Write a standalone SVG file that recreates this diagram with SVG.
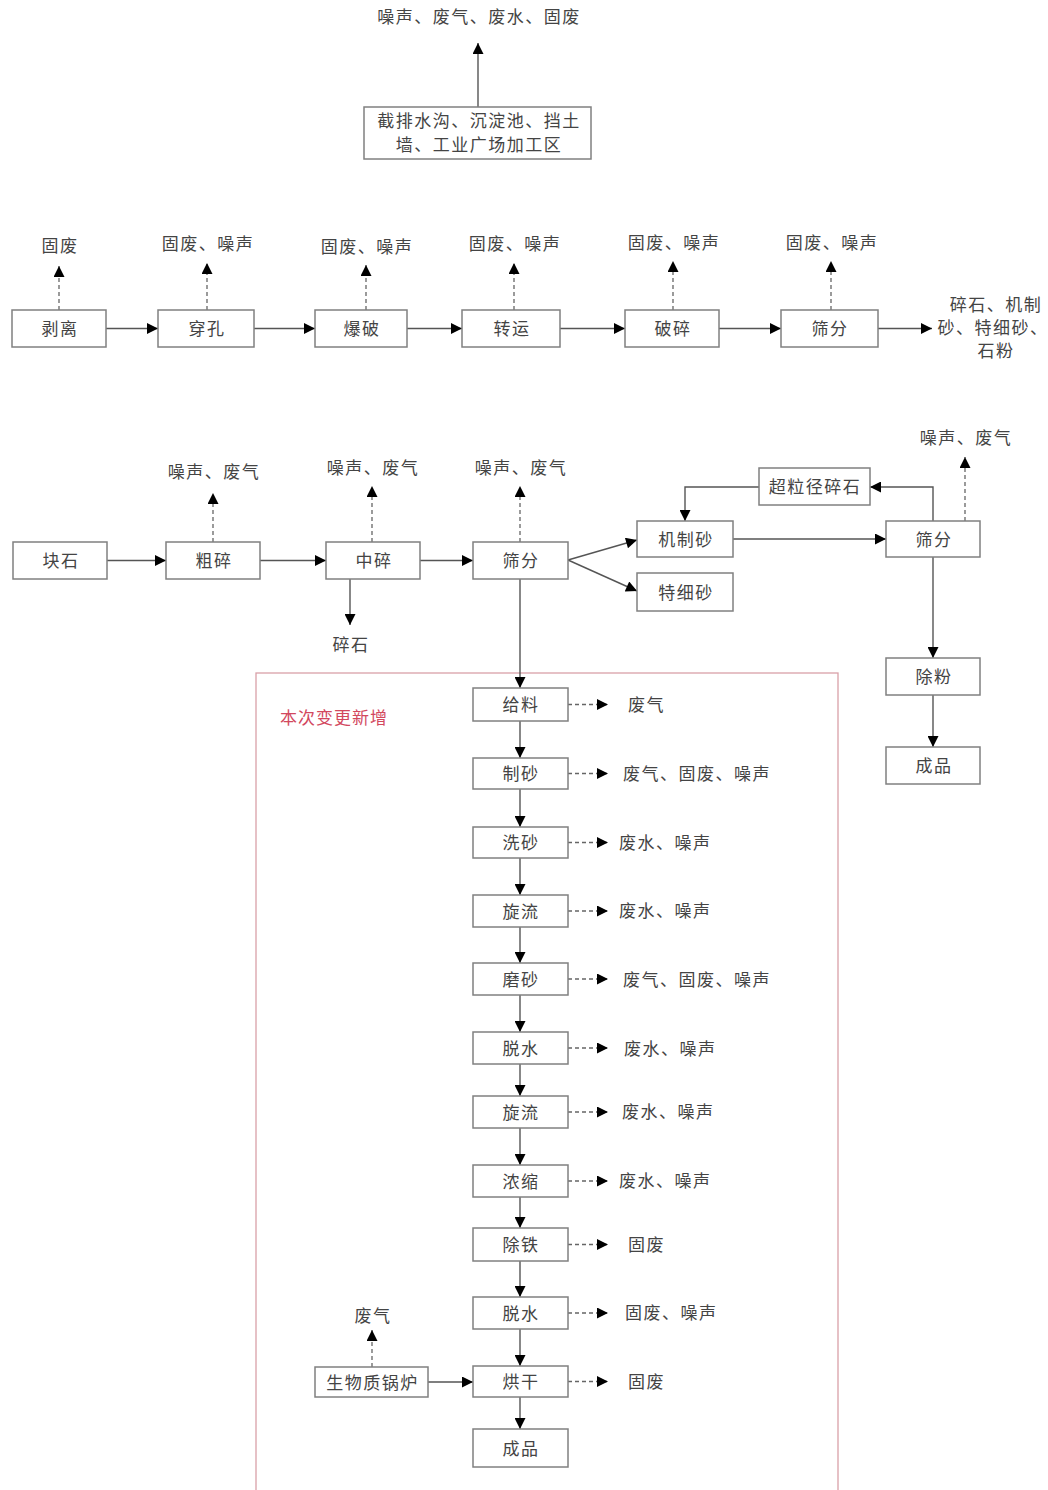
<svg xmlns="http://www.w3.org/2000/svg" width="1048" height="1490" viewBox="0 0 1048 1490">
<style>
.box{fill:#fff;stroke:#808080;stroke-width:1.5}
.t{font-family:"Noto Sans CJK SC","Noto Sans",sans-serif;font-size:17px;letter-spacing:1.5px;fill:#444;text-anchor:middle;dominant-baseline:central}
.l{font-family:"Noto Sans CJK SC","Noto Sans",sans-serif;font-size:17px;letter-spacing:1.5px;fill:#444;text-anchor:start;dominant-baseline:central}
.s{fill:none;stroke:#555;stroke-width:1.4}
.d{fill:none;stroke:#666;stroke-width:1.3;stroke-dasharray:4,3}
.red{fill:none;stroke:#d9a0a8;stroke-width:1.3}
.rt{font-family:"Noto Sans CJK SC","Noto Sans",sans-serif;font-size:17px;letter-spacing:1px;fill:#d2485e;text-anchor:start;dominant-baseline:central}
</style>
<defs>
<marker id="a" viewBox="0 0 10 10" refX="10" refY="5" markerUnits="userSpaceOnUse" markerWidth="15" markerHeight="11" orient="auto">
<path d="M0,0 L10,5 L0,10 z" fill="#000"/>
</marker>
</defs>
<rect width="1048" height="1490" fill="#fff"/>

<g id="newarea">
<rect class="red" x="256" y="673" width="582" height="830"/>
<text class="rt" x="280" y="716">本次变更新增</text>
</g>

<g id="connectors">
<line class="s" x1="478" y1="107" x2="478" y2="43" marker-end="url(#a)"/>
<line class="s" x1="106" y1="328.5" x2="158" y2="328.5" marker-end="url(#a)"/>
<line class="s" x1="254" y1="328.5" x2="315" y2="328.5" marker-end="url(#a)"/>
<line class="s" x1="407" y1="328.5" x2="462" y2="328.5" marker-end="url(#a)"/>
<line class="s" x1="560" y1="328.5" x2="625" y2="328.5" marker-end="url(#a)"/>
<line class="s" x1="719" y1="328.5" x2="781" y2="328.5" marker-end="url(#a)"/>
<line class="s" x1="878" y1="328.5" x2="932" y2="328.5" marker-end="url(#a)"/>
<line class="d" x1="59" y1="310" x2="59" y2="266" marker-end="url(#a)"/>
<line class="d" x1="207" y1="310" x2="207" y2="263" marker-end="url(#a)"/>
<line class="d" x1="366" y1="310" x2="366" y2="265" marker-end="url(#a)"/>
<line class="d" x1="514" y1="310" x2="514" y2="263" marker-end="url(#a)"/>
<line class="d" x1="673" y1="310" x2="673" y2="261" marker-end="url(#a)"/>
<line class="d" x1="831" y1="310" x2="831" y2="261" marker-end="url(#a)"/>
<line class="s" x1="107" y1="560.5" x2="166" y2="560.5" marker-end="url(#a)"/>
<line class="s" x1="260" y1="560.5" x2="326" y2="560.5" marker-end="url(#a)"/>
<line class="s" x1="420" y1="560.5" x2="473" y2="560.5" marker-end="url(#a)"/>
<line class="d" x1="213" y1="542" x2="213" y2="493" marker-end="url(#a)"/>
<line class="d" x1="372" y1="542" x2="372" y2="486" marker-end="url(#a)"/>
<line class="d" x1="520" y1="542" x2="520" y2="486" marker-end="url(#a)"/>
<line class="s" x1="350" y1="579" x2="350" y2="625" marker-end="url(#a)"/>
<line class="s" x1="568" y1="560" x2="637" y2="540" marker-end="url(#a)"/>
<line class="s" x1="568" y1="560" x2="637" y2="591" marker-end="url(#a)"/>
<line class="s" x1="733" y1="539" x2="886" y2="539" marker-end="url(#a)"/>
<polyline class="s" points="933,521 933,487 870,487" marker-end="url(#a)"/>
<polyline class="s" points="759,487 685,487 685,521" marker-end="url(#a)"/>
<line class="d" x1="965" y1="521" x2="965" y2="457" marker-end="url(#a)"/>
<line class="s" x1="933" y1="557" x2="933" y2="658" marker-end="url(#a)"/>
<line class="s" x1="933" y1="695" x2="933" y2="747" marker-end="url(#a)"/>
<line class="s" x1="520" y1="579" x2="520" y2="688" marker-end="url(#a)"/>
<line class="s" x1="520" y1="721" x2="520" y2="758" marker-end="url(#a)"/>
<line class="s" x1="520" y1="789" x2="520" y2="827" marker-end="url(#a)"/>
<line class="s" x1="520" y1="858" x2="520" y2="895" marker-end="url(#a)"/>
<line class="s" x1="520" y1="927" x2="520" y2="963" marker-end="url(#a)"/>
<line class="s" x1="520" y1="995" x2="520" y2="1032" marker-end="url(#a)"/>
<line class="s" x1="520" y1="1064" x2="520" y2="1096" marker-end="url(#a)"/>
<line class="s" x1="520" y1="1128" x2="520" y2="1165" marker-end="url(#a)"/>
<line class="s" x1="520" y1="1197" x2="520" y2="1228" marker-end="url(#a)"/>
<line class="s" x1="520" y1="1261" x2="520" y2="1297" marker-end="url(#a)"/>
<line class="s" x1="520" y1="1329" x2="520" y2="1366" marker-end="url(#a)"/>
<line class="s" x1="520" y1="1397" x2="520" y2="1429" marker-end="url(#a)"/>
<line class="s" x1="428" y1="1382" x2="473" y2="1382" marker-end="url(#a)"/>
<line class="d" x1="372" y1="1367" x2="372" y2="1330" marker-end="url(#a)"/>
<line class="d" x1="568" y1="704.5" x2="608" y2="704.5" marker-end="url(#a)"/>
<line class="d" x1="568" y1="773.5" x2="608" y2="773.5" marker-end="url(#a)"/>
<line class="d" x1="568" y1="842.5" x2="608" y2="842.5" marker-end="url(#a)"/>
<line class="d" x1="568" y1="911" x2="608" y2="911" marker-end="url(#a)"/>
<line class="d" x1="568" y1="979" x2="608" y2="979" marker-end="url(#a)"/>
<line class="d" x1="568" y1="1048" x2="608" y2="1048" marker-end="url(#a)"/>
<line class="d" x1="568" y1="1112" x2="608" y2="1112" marker-end="url(#a)"/>
<line class="d" x1="568" y1="1181" x2="608" y2="1181" marker-end="url(#a)"/>
<line class="d" x1="568" y1="1244.5" x2="608" y2="1244.5" marker-end="url(#a)"/>
<line class="d" x1="568" y1="1313" x2="608" y2="1313" marker-end="url(#a)"/>
<line class="d" x1="568" y1="1381.5" x2="608" y2="1381.5" marker-end="url(#a)"/>
</g>

<g id="labels">
<text class="t" x="479" y="15">噪声、废气、废水、固废</text>
<text class="t" x="60" y="244">固废</text>
<text class="t" x="208" y="242">固废、噪声</text>
<text class="t" x="367" y="245">固废、噪声</text>
<text class="t" x="515" y="242">固废、噪声</text>
<text class="t" x="674" y="241">固废、噪声</text>
<text class="t" x="832" y="241">固废、噪声</text>
<text class="t" x="996" y="303">碎石、机制</text>
<text class="t" x="993" y="326">砂、特细砂、</text>
<text class="t" x="996" y="349">石粉</text>
<text class="t" x="214" y="470">噪声、废气</text>
<text class="t" x="373" y="466">噪声、废气</text>
<text class="t" x="521" y="466">噪声、废气</text>
<text class="t" x="966" y="436">噪声、废气</text>
<text class="t" x="351" y="643">碎石</text>
<text class="l" x="628" y="703">废气</text>
<text class="l" x="623" y="772">废气、固废、噪声</text>
<text class="l" x="619" y="841">废水、噪声</text>
<text class="l" x="619" y="909">废水、噪声</text>
<text class="l" x="623" y="978">废气、固废、噪声</text>
<text class="l" x="624" y="1047">废水、噪声</text>
<text class="l" x="622" y="1110">废水、噪声</text>
<text class="l" x="619" y="1179">废水、噪声</text>
<text class="l" x="628" y="1243">固废</text>
<text class="l" x="625" y="1311">固废、噪声</text>
<text class="l" x="628" y="1380">固废</text>
<text class="t" x="373" y="1314">废气</text>
</g>

<g id="n-top"><rect class="box" x="364" y="107" width="227" height="52"/><text class="t" x="479" y="119">截排水沟、沉淀池、挡土</text><text class="t" x="479" y="143">墙、工业广场加工区</text></g>
<g id="n-boli"><rect class="box" x="12" y="310" width="94" height="37"/><text class="t" x="60" y="327.5">剥离</text></g>
<g id="n-chuankong"><rect class="box" x="158" y="310" width="96" height="37"/><text class="t" x="207" y="327.5">穿孔</text></g>
<g id="n-baopo"><rect class="box" x="315" y="310" width="92" height="37"/><text class="t" x="362" y="327.5">爆破</text></g>
<g id="n-zhuanyun"><rect class="box" x="462" y="310" width="98" height="37"/><text class="t" x="512" y="327.5">转运</text></g>
<g id="n-posui"><rect class="box" x="625" y="310" width="94" height="37"/><text class="t" x="673" y="327.5">破碎</text></g>
<g id="n-shaifen1"><rect class="box" x="781" y="310" width="97" height="37"/><text class="t" x="830" y="327.5">筛分</text></g>

<g id="n-kuaishi"><rect class="box" x="13" y="542" width="94" height="37"/><text class="t" x="61" y="559.5">块石</text></g>
<g id="n-cusui"><rect class="box" x="166" y="542" width="94" height="37"/><text class="t" x="214" y="559.5">粗碎</text></g>
<g id="n-zhongsui"><rect class="box" x="326" y="542" width="94" height="37"/><text class="t" x="374" y="559.5">中碎</text></g>
<g id="n-shaifen2"><rect class="box" x="473" y="542" width="95" height="37"/><text class="t" x="521" y="559.5">筛分</text></g>
<g id="n-jizhisha"><rect class="box" x="637" y="521" width="96" height="36"/><text class="t" x="686" y="538">机制砂</text></g>
<g id="n-texisha"><rect class="box" x="637" y="573" width="96" height="38"/><text class="t" x="686" y="591">特细砂</text></g>
<g id="n-chaolijing"><rect class="box" x="759" y="468" width="111" height="37"/><text class="t" x="815" y="485.5">超粒径碎石</text></g>
<g id="n-shaifen3"><rect class="box" x="886" y="521" width="94" height="36"/><text class="t" x="934" y="538">筛分</text></g>
<g id="n-chufen"><rect class="box" x="886" y="658" width="94" height="37"/><text class="t" x="934" y="675.5">除粉</text></g>
<g id="n-chengpin1"><rect class="box" x="886" y="747" width="94" height="37"/><text class="t" x="934" y="764.5">成品</text></g>

<g id="n-geiliao"><rect class="box" x="473" y="688" width="95" height="33"/><text class="t" x="521" y="703.5">给料</text></g>
<g id="n-zhisha"><rect class="box" x="473" y="758" width="95" height="31"/><text class="t" x="521" y="772.5">制砂</text></g>
<g id="n-xisha"><rect class="box" x="473" y="827" width="95" height="31"/><text class="t" x="521" y="841.5">洗砂</text></g>
<g id="n-xuanliu1"><rect class="box" x="473" y="895" width="95" height="32"/><text class="t" x="521" y="910">旋流</text></g>
<g id="n-mosha"><rect class="box" x="473" y="963" width="95" height="32"/><text class="t" x="521" y="978">磨砂</text></g>
<g id="n-tuoshui1"><rect class="box" x="473" y="1032" width="95" height="32"/><text class="t" x="521" y="1047">脱水</text></g>
<g id="n-xuanliu2"><rect class="box" x="473" y="1096" width="95" height="32"/><text class="t" x="521" y="1111">旋流</text></g>
<g id="n-nongsuo"><rect class="box" x="473" y="1165" width="95" height="32"/><text class="t" x="521" y="1180">浓缩</text></g>
<g id="n-chutie"><rect class="box" x="473" y="1228" width="95" height="33"/><text class="t" x="521" y="1243.5">除铁</text></g>
<g id="n-tuoshui2"><rect class="box" x="473" y="1297" width="95" height="32"/><text class="t" x="521" y="1312">脱水</text></g>
<g id="n-honggan"><rect class="box" x="473" y="1366" width="95" height="31"/><text class="t" x="521" y="1380.5">烘干</text></g>
<g id="n-chengpin2"><rect class="box" x="473" y="1429" width="95" height="38"/><text class="t" x="521" y="1447">成品</text></g>
<g id="n-guolu"><rect class="box" x="315" y="1367" width="113" height="30"/><text class="t" x="372.5" y="1381">生物质锅炉</text></g>
</svg>
